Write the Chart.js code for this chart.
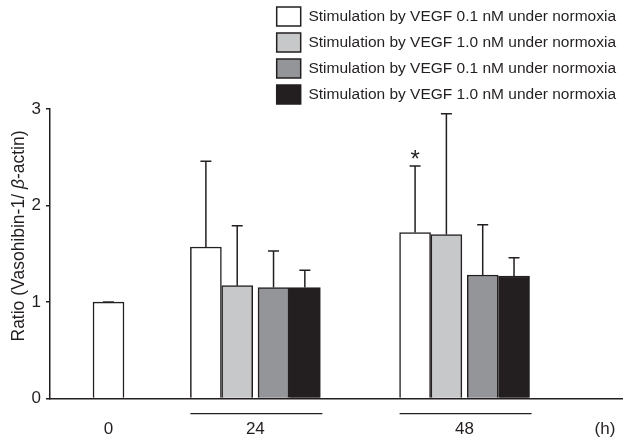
<!DOCTYPE html>
<html>
<head>
<meta charset="utf-8">
<script src="https://cdn.jsdelivr.net/npm/chart.js@4.4.1/dist/chart.umd.min.js"></script>
<style>
  html, body { margin: 0; padding: 0; background: #fff; }
  #wrap { width: 623px; height: 442px; }
</style>
</head>
<body>
<div id="wrap"><canvas id="chart"></canvas></div>
<script>
// Temps de stimulation (h)
const categories = ['0', '24', '48'];

const seriesLabels = [
    'Stimulation by VEGF 0.1 nM under normoxia',
    'Stimulation by VEGF 1.0 nM under normoxia',
    'Stimulation by VEGF 0.1 nM under normoxia',
    'Stimulation by VEGF 1.0 nM under normoxia'
];

// Moyennes (ratio Vasohibin-1 / beta-actine)
const vegf01a = [1.00, 1.57, 1.72];
const vegf10a = [null, 1.17, 1.70];
const vegf01b = [null, 1.15, 1.28];
const vegf10b = [null, 1.15, 1.27];

// Ecarts (barre d'erreur vers le haut)
const err01a = [0, 0.89, 0.69];
const err10a = [null, 0.62, 1.25];
const err01b = [null, 0.38, 0.52];
const err10b = [null, 0.18, 0.19];

// Significativité
const sig01a = ['', '', '*'];

const yTicks = [0, 1, 2, 3];

const ink = '#231f20';
const fills = ['#ffffff', '#c7c8ca', '#939598', '#231f20'];
const family = '"Liberation Sans", Arial, sans-serif';

// Mise en page de l'axe x (en largeurs de barre)
const groupCenter = [1.87, 6.56, 13.24];
const pairGap = 0.16;
const xMax = 18.3;

const means = [vegf01a, vegf10a, vegf01b, vegf10b];
const errs = [err01a, err10a, err01b, err10b];
const marks = [sig01a, [], [], []];

function barX(cat, s) {
    const present = means.map((m, i) => (m[cat] != null ? i : -1)).filter(i => i >= 0);
    const n = present.length;
    const k = present.indexOf(s);
    if (n === 1) return groupCenter[cat];
    const off = k - (n - 1) / 2 + (k < n / 2 ? -pairGap / 2 : pairGap / 2);
    return groupCenter[cat] + off;
}

const datasets = means.map((m, s) => ({
    label: seriesLabels[s],
    data: m.map((v, c) => (v == null ? null : {
        x: barX(c, s), y: v, err: errs[s][c], mark: marks[s][c] || '', cat: c
    })).filter(Boolean),
    backgroundColor: fills[s],
    borderColor: ink,
    borderWidth: 1.5,
    borderSkipped: 'bottom',
    barThickness: 31,
    grouped: false
}));

// Barres d'erreur, astérisque, soulignement des groupes, titres
const decor = {
    id: 'decor',
    afterDatasetsDraw(chart) {
        const { ctx, scales: { y }, chartArea } = chart;
        ctx.save();
        ctx.strokeStyle = ink;
        ctx.fillStyle = ink;
        ctx.lineWidth = 1.5;
        const spans = {};
        chart.data.datasets.forEach((ds, di) => {
            const meta = chart.getDatasetMeta(di);
            meta.data.forEach((bar, i) => {
                const pt = ds.data[i];
                const top = y.getPixelForValue(pt.y + pt.err);
                ctx.beginPath();
                ctx.moveTo(bar.x, bar.y);
                ctx.lineTo(bar.x, top);
                ctx.moveTo(bar.x - 5.5, top);
                ctx.lineTo(bar.x + 5.5, top);
                ctx.stroke();
                if (pt.mark) {
                    ctx.font = '24px ' + family;
                    ctx.textAlign = 'center';
                    ctx.textBaseline = 'alphabetic';
                    ctx.fillText(pt.mark, bar.x, top + 1);
                }
                const l = bar.x - bar.width / 2, r = bar.x + bar.width / 2;
                const sp = spans[pt.cat] || (spans[pt.cat] = { l, r, n: 0 });
                sp.l = Math.min(sp.l, l);
                sp.r = Math.max(sp.r, r);
                sp.n++;
            });
        });
        ctx.lineWidth = 1.3;
        Object.values(spans).forEach(sp => {
            if (sp.n < 2) return;
            ctx.beginPath();
            ctx.moveTo(sp.l, chartArea.bottom + 15);
            ctx.lineTo(sp.r + 2, chartArea.bottom + 15);
            ctx.stroke();
        });

        ctx.font = '17px ' + family;
        ctx.textAlign = 'center';
        ctx.textBaseline = 'middle';
        ctx.fillText('(h)', chartArea.right - 18, chartArea.bottom + 31);

        // titre de l'axe y avec beta en italique
        const parts = [
            ['Ratio (Vasohibin-1/ ', '17.5px ' + family],
            ['β', 'italic 17.5px ' + family],
            ['-actin)', '17.5px ' + family]
        ];
        let total = 0;
        parts.forEach(p => { ctx.font = p[1]; total += ctx.measureText(p[0]).width; });
        ctx.translate(chartArea.left - 30.5, chartArea.top + 127);
        ctx.rotate(-Math.PI / 2);
        ctx.textAlign = 'left';
        let cx = -total / 2;
        parts.forEach(p => {
            ctx.font = p[1];
            ctx.fillText(p[0], cx, 0);
            cx += ctx.measureText(p[0]).width;
        });
        ctx.restore();
    }
};

// Légende un peu moins haute que prévu par Chart.js
const legendFit = {
    id: 'legendFit',
    beforeInit(chart) {
        const fit = chart.legend.fit;
        chart.legend.fit = function () {
            fit.call(this);
            this.height -= 5;
        };
    }
};

Chart.defaults.font.family = family;
Chart.defaults.color = ink;

document.addEventListener('DOMContentLoaded', () => {
    const ctx = document.getElementById('chart').getContext('2d');
    new Chart(ctx, {
        type: 'bar',
        data: { datasets: datasets },
        options: {
            responsive: true,
            maintainAspectRatio: false,
            animation: false,
            layout: { padding: { left: 26.5, right: 0, top: 0, bottom: -19 } },
            plugins: {
                legend: {
                    position: 'top',
                    align: 'end',
                    labels: {
                        boxWidth: 24,
                        boxHeight: 19,
                        padding: 7,
                        color: ink,
                        font: { size: 15.5 }
                    }
                },
                tooltip: { enabled: false }
            },
            scales: {
                x: {
                    type: 'linear',
                    offset: false,
                    min: 0,
                    max: xMax,
                    afterBuildTicks(scale) {
                        scale.ticks = groupCenter.map(v => ({ value: v }));
                    },
                    ticks: {
                        autoSkip: false,
                        maxRotation: 0,
                        padding: 21,
                        color: ink,
                        font: { size: 17 },
                        callback: (v, i) => categories[i]
                    },
                    grid: { display: false, drawTicks: false, offset: false },
                    border: { display: true, color: ink, width: 1.5 }
                },
                y: {
                    min: 0,
                    max: 3,
                    afterBuildTicks(scale) {
                        scale.ticks = yTicks.map(v => ({ value: v }));
                    },
                    ticks: { padding: 5, color: ink, font: { size: 17 } },
                    grid: { drawOnChartArea: false, drawTicks: true, tickLength: 4, color: ink, lineWidth: 1.5 },
                    border: { display: true, color: ink, width: 1.5 }
                }
            }
        },
        plugins: [decor, legendFit]
    });
});
</script>
</body>
</html>
